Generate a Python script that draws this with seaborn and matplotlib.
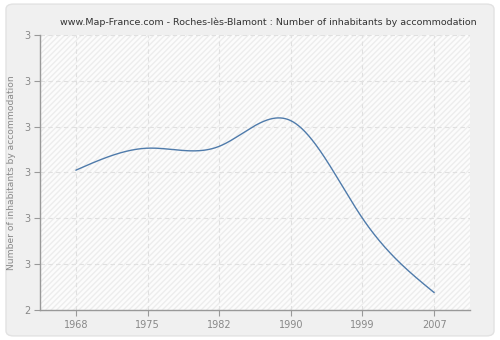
import numpy as np
import pandas as pd
import matplotlib
matplotlib.use("Agg")
import matplotlib.pyplot as plt
import seaborn as sns
from matplotlib.patches import FancyBboxPatch, Rectangle

years = ["1968", "1975", "1982", "1990", "1999", "2007"]
values = [2.805, 2.853, 2.857, 2.913, 2.700, 2.538]
y_ticks = [2.5, 2.6, 2.7, 2.8, 2.9, 3.0, 3.1]
y_tick_labels = ["2", "3", "3", "3", "3", "3", "3"]

title = "www.Map-France.com - Roches-lès-Blamont : Number of inhabitants by accommodation"
ylabel = "Number of inhabitants by accommodation"


def natural_spline(x, y, xs):
    x = np.asarray(x, float)
    y = np.asarray(y, float)
    n = len(x)
    h = np.diff(x)
    A = np.zeros((n, n))
    b = np.zeros(n)
    A[0, 0] = 1
    A[-1, -1] = 1
    for i in range(1, n - 1):
        A[i, i - 1] = h[i - 1]
        A[i, i] = 2 * (h[i - 1] + h[i])
        A[i, i + 1] = h[i]
        b[i] = 3 * ((y[i + 1] - y[i]) / h[i] - (y[i] - y[i - 1]) / h[i - 1])
    c = np.linalg.solve(A, b)
    out = np.empty_like(xs)
    for k, xv in enumerate(xs):
        i = min(max(np.searchsorted(x, xv) - 1, 0), n - 2)
        dx = xv - x[i]
        bi = (y[i + 1] - y[i]) / h[i] - h[i] * (2 * c[i] + c[i + 1]) / 3
        di = (c[i + 1] - c[i]) / (3 * h[i])
        out[k] = y[i] + bi * dx + c[i] * dx ** 2 + di * dx ** 3
    return out


sns.set_theme(style="white")
plt.rcParams["font.family"] = ["DejaVu Sans"]

fig = plt.figure(figsize=(5, 3.4), dpi=100)
fig.patch.set_facecolor("white")
bg = FancyBboxPatch((0.012, 0.012), 0.976, 0.976, boxstyle="round,pad=0,rounding_size=0.015",
                    transform=fig.transFigure, facecolor="#f0f0f0", edgecolor="#e2e2e2",
                    linewidth=1, zorder=-10)
fig.patches.append(bg)

ax = fig.add_axes([0.08, 0.0882, 0.86, 0.809])
ax.set_facecolor("#fcfcfc")
ax.add_patch(Rectangle((0, 0), 1, 1, transform=ax.transAxes, facecolor="none",
                       edgecolor="#ededed", hatch="//////", linewidth=0, zorder=0))

idx = np.arange(len(years))
xs = np.linspace(0, len(years) - 1, 400)
ys = natural_spline(idx, values, xs)
df = pd.DataFrame({"x": xs, "y": ys})
sns.lineplot(data=df, x="x", y="y", ax=ax, color="#4f7bab", linewidth=1.0, zorder=3)

ax.set_xlim(-0.5, 5.5)
ax.set_ylim(2.5, 3.1)
ax.set_xticks(idx)
ax.set_xticklabels(years)
ax.set_yticks(y_ticks)
ax.set_yticklabels(y_tick_labels)
ax.tick_params(axis="both", colors="#999999", labelsize=7, length=4, width=0.8,
               direction="out", bottom=True, left=True, pad=3)
ax.tick_params(axis="both", labelcolor="#888888")
ax.set_xlabel("")
ax.set_ylabel(ylabel, color="#888888", fontsize=6.6, labelpad=6)
ax.grid(True, color="#e0e0e0", linestyle=(0, (4, 3)), linewidth=0.8)
for s in ["top", "right"]:
    ax.spines[s].set_visible(False)
for s in ["left", "bottom"]:
    ax.spines[s].set_color("#999999")
    ax.spines[s].set_linewidth(1.0)

fig.text(0.536, 0.935, title, ha="center", va="center", fontsize=6.8, color="#333333")

fig.savefig("out.png", dpi=100, facecolor=fig.get_facecolor())
